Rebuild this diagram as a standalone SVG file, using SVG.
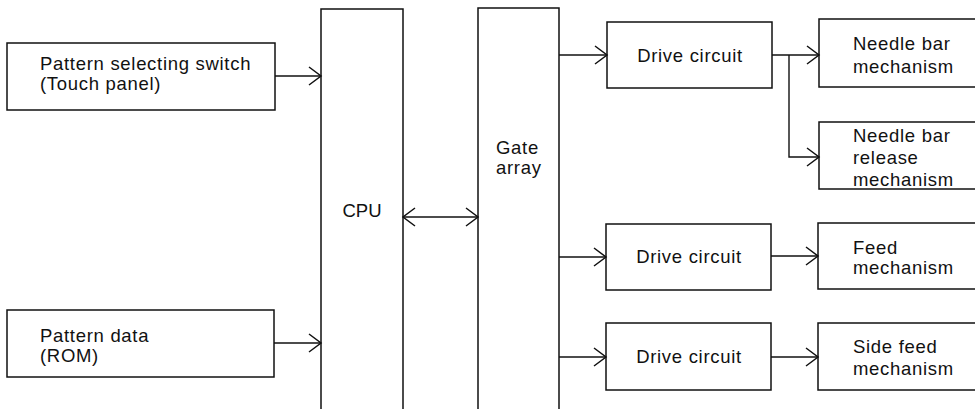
<svg xmlns="http://www.w3.org/2000/svg" width="975" height="409" viewBox="0 0 975 409">
<defs>
<style>
.box{fill:none;stroke:#111;stroke-width:1.5}
.t{font-family:"Liberation Sans",Arial,sans-serif;font-size:18.5px;letter-spacing:0.7px;fill:#111}
.c{fill:none;stroke:#111;stroke-width:1.4}
</style>
<marker id="ah" viewBox="-14 -11 16 22" refX="0" refY="0" markerWidth="16" markerHeight="22" markerUnits="userSpaceOnUse" orient="auto-start-reverse">
<path d="M-12,-9 L0,0 L-12,9" fill="none" stroke="#111" stroke-width="1.5"/>
</marker>
</defs>
<rect width="975" height="409" fill="#fff"/>

<g id="pattern-switch">
<rect class="box" x="7" y="43" width="268" height="67"/>
<text class="t" x="40" y="70">Pattern selecting switch</text>
<text class="t" x="40" y="90">(Touch panel)</text>
</g>

<g id="pattern-data">
<rect class="box" x="7" y="310" width="267" height="67"/>
<text class="t" x="40" y="342">Pattern data</text>
<text class="t" x="40" y="362">(ROM)</text>
</g>

<g id="cpu">
<path class="box" d="M321,420 V9 H403 V420"/>
<text class="t" x="362" y="217" text-anchor="middle" style="letter-spacing:0">CPU</text>
</g>

<g id="gate-array">
<path class="box" d="M478,420 V8 H559 V420"/>
<text class="t" x="496" y="154">Gate</text>
<text class="t" x="496" y="174">array</text>
</g>

<g id="drive1">
<rect class="box" x="607" y="22" width="165" height="66"/>
<text class="t" x="690" y="62" text-anchor="middle">Drive circuit</text>
</g>

<g id="drive2">
<rect class="box" x="606" y="224" width="165" height="66"/>
<text class="t" x="689" y="263" text-anchor="middle">Drive circuit</text>
</g>

<g id="drive3">
<rect class="box" x="606" y="323" width="165" height="67"/>
<text class="t" x="689" y="363" text-anchor="middle">Drive circuit</text>
</g>

<g id="needle-bar">
<rect class="box" x="819" y="19" width="170" height="68"/>
<text class="t" x="853" y="50">Needle bar</text>
<text class="t" x="853" y="73">mechanism</text>
</g>

<g id="needle-bar-release">
<rect class="box" x="819" y="122" width="170" height="67"/>
<text class="t" x="853" y="142">Needle bar</text>
<text class="t" x="853" y="164">release</text>
<text class="t" x="853" y="186">mechanism</text>
</g>

<g id="feed">
<rect class="box" x="818" y="223" width="170" height="66"/>
<text class="t" x="853" y="254">Feed</text>
<text class="t" x="853" y="274">mechanism</text>
</g>

<g id="side-feed">
<rect class="box" x="818" y="323" width="170" height="67"/>
<text class="t" x="853" y="353">Side feed</text>
<text class="t" x="853" y="375">mechanism</text>
</g>

<g id="connectors">
<line class="c" x1="275" y1="76" x2="321" y2="76" marker-end="url(#ah)"/>
<line class="c" x1="274" y1="343" x2="321" y2="343" marker-end="url(#ah)"/>
<line class="c" x1="403" y1="217" x2="478" y2="217" marker-start="url(#ah)" marker-end="url(#ah)"/>
<line class="c" x1="559" y1="55" x2="607" y2="55" marker-end="url(#ah)"/>
<line class="c" x1="559" y1="257" x2="606" y2="257" marker-end="url(#ah)"/>
<line class="c" x1="559" y1="357" x2="606" y2="357" marker-end="url(#ah)"/>
<line class="c" x1="772" y1="55" x2="819" y2="55" marker-end="url(#ah)"/>
<polyline class="c" points="789,55 789,157 819,157" marker-end="url(#ah)"/>
<line class="c" x1="771" y1="256" x2="818" y2="256" marker-end="url(#ah)"/>
<line class="c" x1="771" y1="357" x2="818" y2="357" marker-end="url(#ah)"/>
</g>
</svg>
